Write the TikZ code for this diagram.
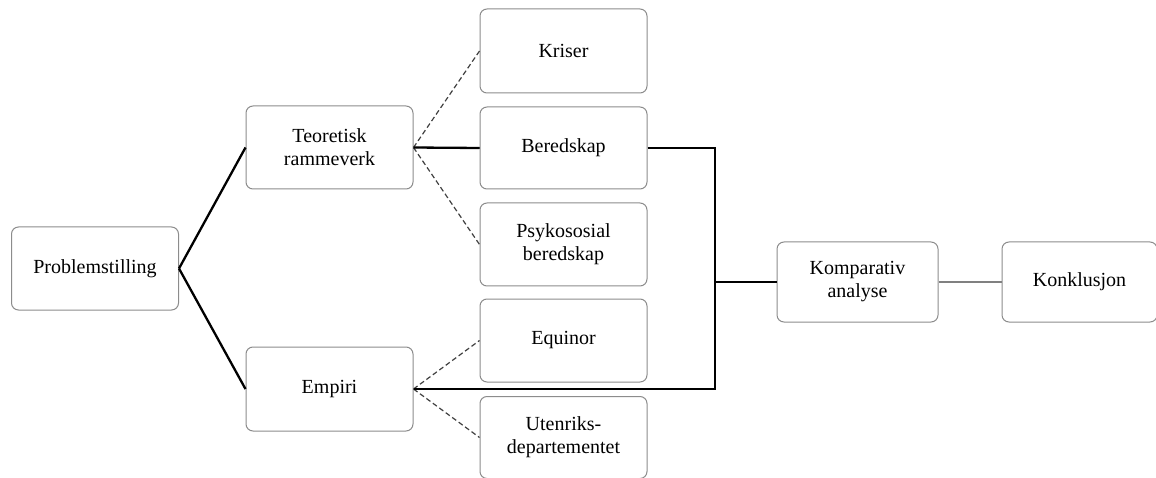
\documentclass[tikz,border=0pt]{standalone}
\usepackage{fontspec}
\setmainfont{Liberation Serif}
\newfontfamily\boxfont{Liberation Serif}
\begin{document}
\begin{tikzpicture}[x=1pt,y=-1pt,
  box/.style={draw=black!45, line width=1pt, rounded corners=7pt, fill=white,
    minimum width=#1, align=center, inner sep=0pt,
    font=\boxfont\fontsize{20}{23}\selectfont},
  box/.default=167pt,
  solidlink/.style={draw=black, line width=2.3pt},
  duallink/.style={draw=black!75, line width=1.2pt, dash pattern=on 5pt off 3pt},
  greylink/.style={draw=black!50, line width=2.6pt}]
\useasboundingbox (0,0) rectangle (1156,478);
% nodes
\node[box, minimum height=83pt] (prob) at (95,268.5) {Problemstilling};
\node[box, minimum height=83pt] (teo) at (329.5,147.5) {Teoretisk\\rammeverk};
\node[box, minimum height=84pt] (emp) at (329.5,389) {Empiri};
\node[box, minimum height=84pt] (kri) at (563.5,51) {Kriser};
\node[box, minimum height=82pt] (ber) at (563.5,148) {Beredskap};
\node[box, minimum height=83pt] (psy) at (563.5,244.5) {Psykososial\\beredskap};
\node[box, minimum height=83pt] (equ) at (563.5,340.5) {Equinor};
\node[box, minimum height=82pt] (ute) at (563.5,437.5) {Utenriks-\\departementet};
\node[box=161pt, minimum height=80pt] (kom) at (857.5,282) {Komparativ\\analyse};
\node[box=155pt, minimum height=80pt] (kon) at (1079.5,282) {Konklusjon};
\coordinate (bus) at (715,282);
% connectors
\draw[solidlink] (prob.east) -- (teo.west);
\draw[solidlink] (prob.east) -- (emp.west);
\draw[duallink] (teo.east) -- (kri.west);
\draw[duallink] (teo.east) -- (psy.west);
\draw[duallink] (teo.east) -- (ber.west);
\draw[solidlink] (teo.east) -- (ber.west);
\draw[duallink] (emp.east) -- (equ.west);
\draw[duallink] (emp.east) -- (ute.west);
\draw[solidlink] (ber.east) -| (bus) |- (emp.east);
\draw[solidlink] (bus) -- (kom.west);
\draw[greylink] (kom.east) -- (kon.west);
\end{tikzpicture}
\end{document}
